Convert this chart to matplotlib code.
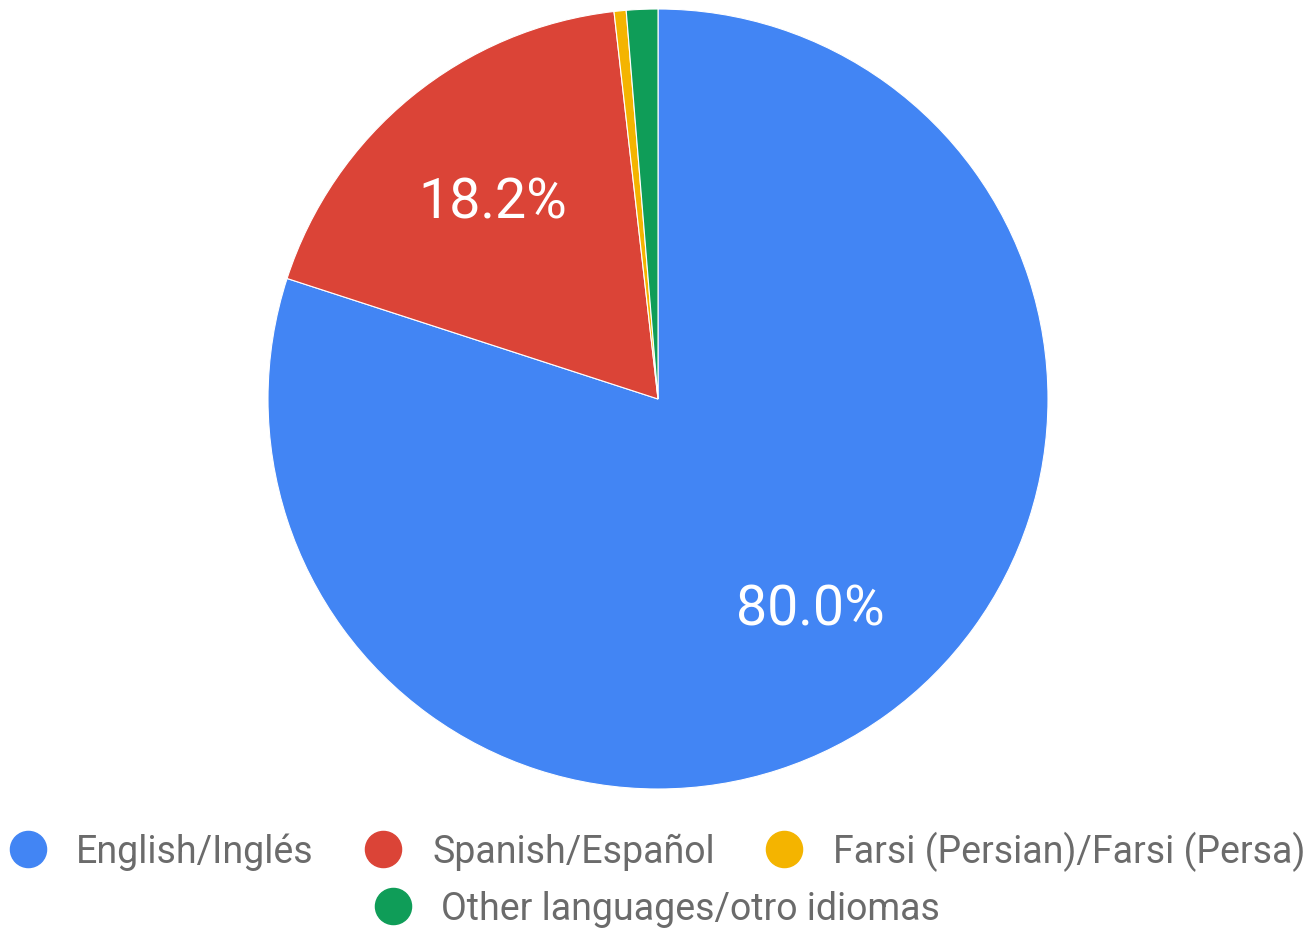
import matplotlib.pyplot as plt
from matplotlib.lines import Line2D

plt.rcParams['font.family'] = ['Roboto', 'DejaVu Sans']

# language breakdown (percent of responses)
languages = ['English/Inglés', 'Spanish/Español',
             'Farsi (Persian)/Farsi (Persa)', 'Other languages/otro idiomas']
shares = [80.0, 18.2, 0.5, 1.3]
colors = ['#4285F4', '#DB4437', '#F4B400', '#0F9D58']

W, H = 1314, 929
fig = plt.figure(figsize=(W / 100, H / 100), dpi=100)

# pie centred at (658, 400) px with a 390 px radius
cx, cy, r = 658, 400, 390
ax = fig.add_axes([(cx - r) / W, (H - cy - r) / H, 2 * r / W, 2 * r / H])


def pct(p):
    return '%.1f%%' % p if p >= 5 else ''


wedges, texts, autotexts = ax.pie(
    shares, colors=colors, startangle=90, counterclock=False,
    autopct=pct, pctdistance=0.665, radius=1,
    wedgeprops=dict(edgecolor='white', linewidth=0.8),
    textprops=dict(color='white', fontsize=40))
ax.set_xlim(-1, 1)
ax.set_ylim(-1, 1)
ax.set_aspect('equal')
ax.axis('off')

# nudge the Spanish label so it sits inside the narrow slice
autotexts[1].set_position((-0.423, 0.505))

# legend: three entries on the first row, one centred below
def handle(c):
    return Line2D([], [], marker='o', linestyle='none', markersize=26,
                  markerfacecolor=c, markeredgecolor=c)

fig.legend([handle(c) for c in colors[:3]], languages[:3],
           loc='center', bbox_to_anchor=(0.5, 1 - 852 / H), ncol=3,
           frameon=False, fontsize=27, labelcolor='#6b6b6b',
           handlelength=1.0, handletextpad=0.8, columnspacing=1.35,
           borderpad=0)
fig.legend([handle(colors[3])], languages[3:],
           loc='center', bbox_to_anchor=(0.5, 1 - 910 / H), ncol=1,
           frameon=False, fontsize=27, labelcolor='#6b6b6b',
           handlelength=1.0, handletextpad=0.8, borderpad=0)

fig.savefig('out.png', dpi=100, facecolor='white')
